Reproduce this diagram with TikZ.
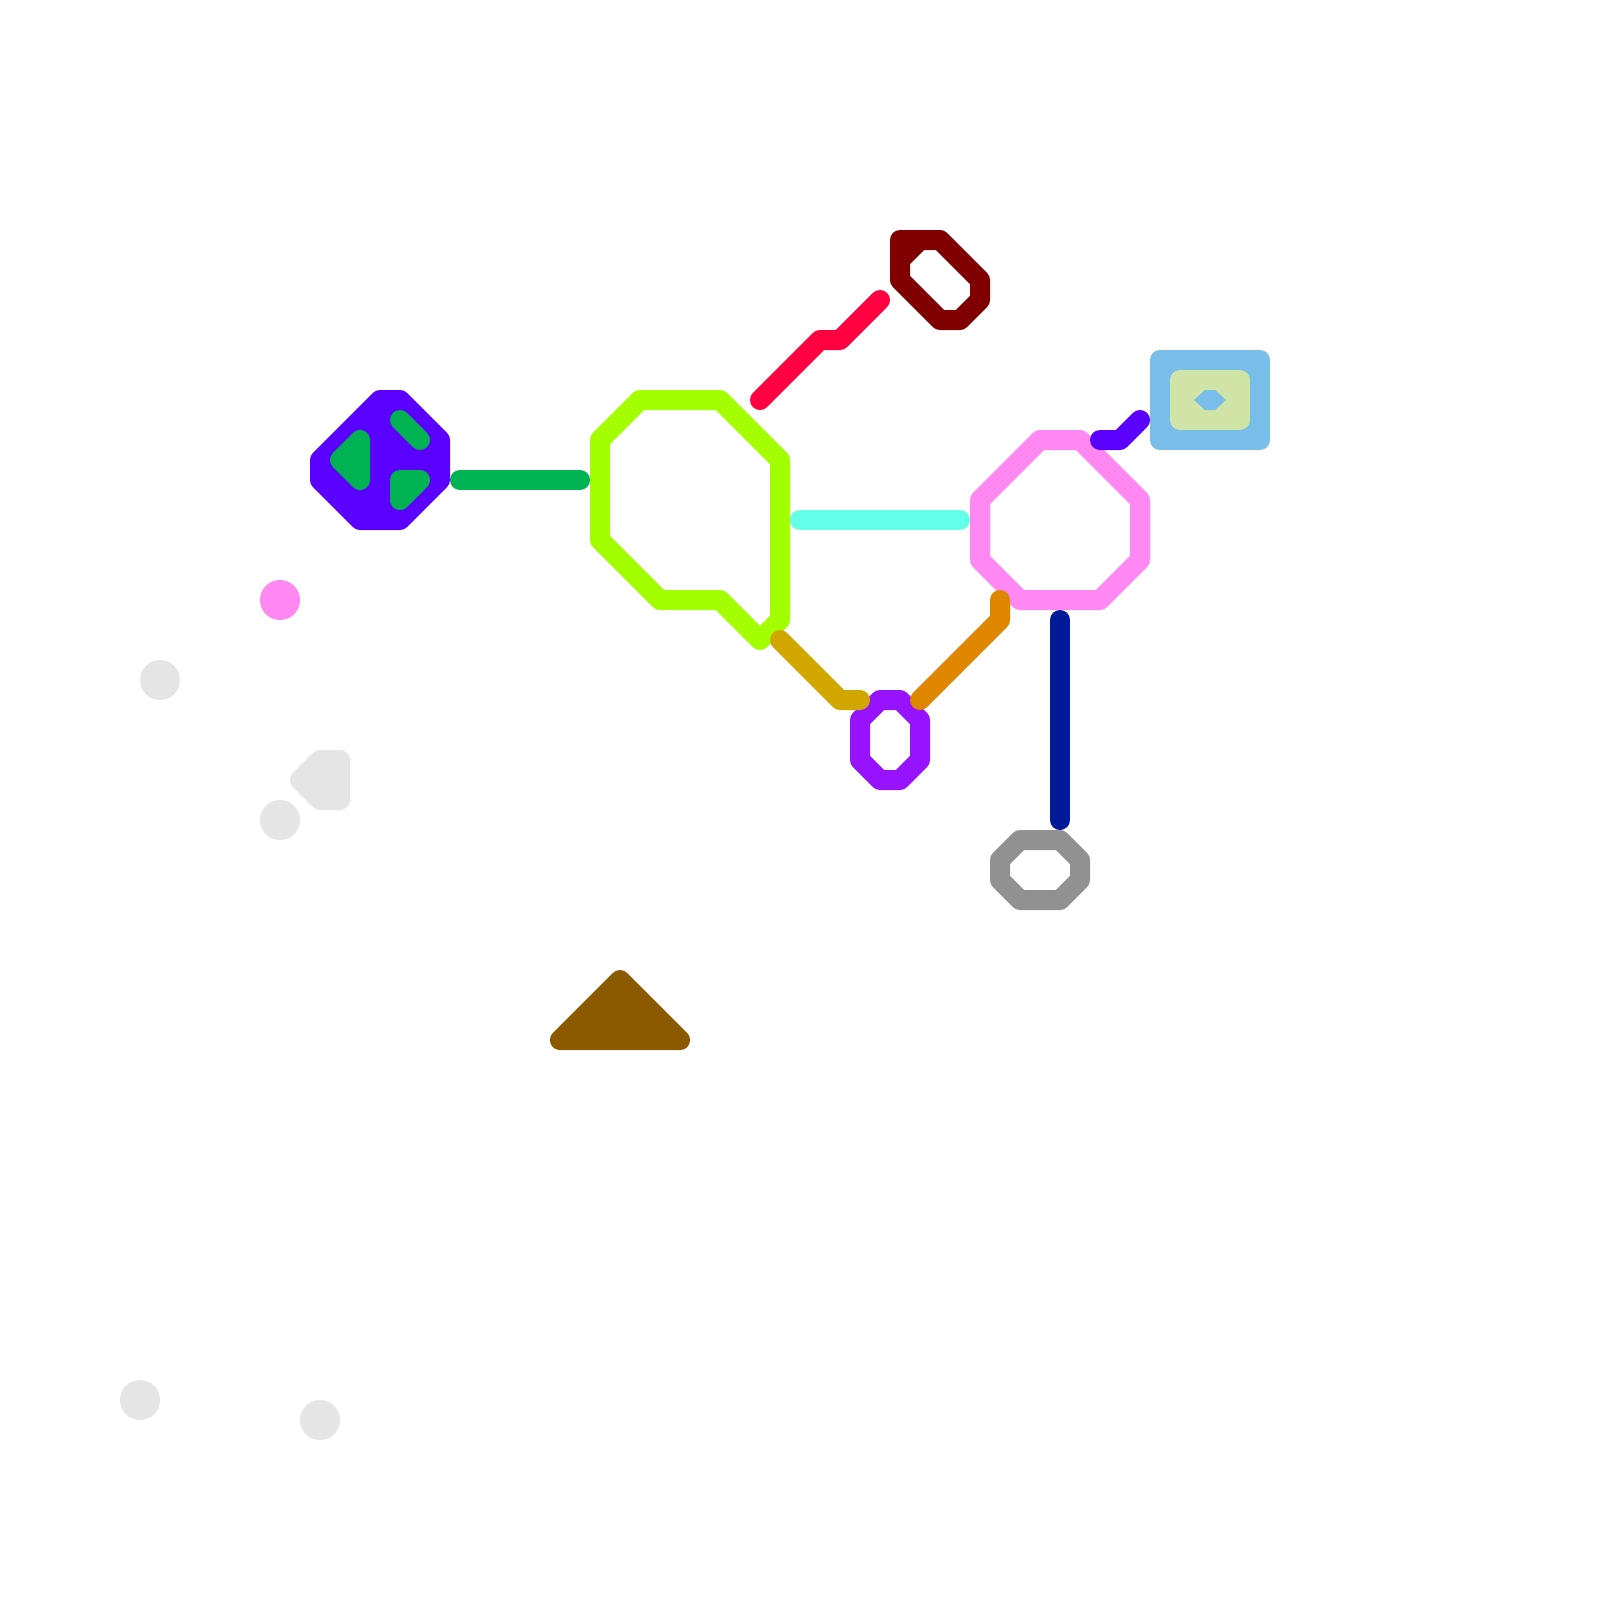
\documentclass[tikz,border=0pt]{standalone}
\definecolor{cviolet}{HTML}{5A00FF}
\definecolor{cgreen}{HTML}{00B251}
\definecolor{clime}{HTML}{A3FF00}
\definecolor{cred}{HTML}{FF0040}
\definecolor{cdark}{HTML}{800000}
\definecolor{csky}{HTML}{79BDE9}
\definecolor{cpale}{HTML}{D0E4A8}
\definecolor{cpink}{HTML}{FF88F2}
\definecolor{ccyan}{HTML}{66FFEB}
\definecolor{cnavy}{HTML}{001A9B}
\definecolor{cgrey}{HTML}{919191}
\definecolor{clight}{HTML}{E5E5E5}
\definecolor{cbrown}{HTML}{8B5A00}
\definecolor{cpurple}{HTML}{9712FF}
\definecolor{cgold}{HTML}{D2A600}
\definecolor{corange}{HTML}{DF8600}
\tikzset{
  metro/.style={draw=#1,line width=1cm,line cap=round,line join=round},
  solid shape/.style={draw=#1,fill=#1,line width=1cm,line cap=round,line join=round},
  stationdot/.style={fill=#1,draw=none}
}
\begin{document}
\begin{tikzpicture}[x=0.05cm,y=-0.05cm]
\useasboundingbox (0,0) rectangle (1600,1600);
\fill[white] (0,0) rectangle (1600,1600);
% violet blob with green marks
\draw[solid shape=cviolet] (320,460)--(380,400)--(400,400)--(440,440)--(440,480)--(400,520)--(360,520)--(320,480)--cycle;
\draw[solid shape=cgreen] (340,460)--(360,440)--(360,480)--cycle;
\draw[metro=cgreen] (400,420)--(420,440);
\draw[solid shape=cgreen] (400,480)--(420,480)--(400,500)--cycle;
\draw[metro=cgreen] (460,480)--(580,480);
% lime loop
\draw[metro=clime] (640,400)--(720,400)--(780,460)--(780,620)--(760,640)--(720,600)--(660,600)--(600,540)--(600,440)--cycle;
% red
\draw[metro=cred] (760,400)--(820,340)--(840,340)--(880,300);
% dark red
\draw[metro=cdark] (900,260)--(920,240)--(900,240)--(940,240)--(980,280)--(980,300)--(960,320)--(940,320)--(900,280)--(900,240);
% sky block
\draw[solid shape=csky] (1160,360) rectangle (1260,440);
\draw[solid shape=cpale] (1180,380) rectangle (1240,420);
\fill[csky] (1194,400)--(1205,390)--(1215,390)--(1226,400)--(1215,410)--(1205,410)--cycle;
% pink loop
\draw[metro=cpink] (1040,440)--(1080,440)--(1140,500)--(1140,560)--(1100,600)--(1020,600)--(980,560)--(980,500)--cycle;
\draw[metro=cviolet] (1100,440)--(1120,440)--(1140,420);
\draw[metro=ccyan] (800,520)--(960,520);
\draw[metro=cnavy] (1060,620)--(1060,820);
\draw[metro=cgrey] (1000,860)--(1020,840)--(1060,840)--(1080,860)--(1080,880)--(1060,900)--(1020,900)--(1000,880)--cycle;
% purple with gold and orange
\draw[metro=cpurple] (860,720)--(880,700)--(900,700)--(920,720)--(920,760)--(900,780)--(880,780)--(860,760)--cycle;
\draw[metro=cgold] (780,640)--(840,700)--(860,700);
\draw[metro=corange] (920,700)--(1000,620)--(1000,600);
% brown triangle
\draw[solid shape=cbrown] (560,1040)--(620,980)--(680,1040)--cycle;
% dots
\fill[stationdot=cpink] (280,600) circle (20);
\fill[stationdot=clight] (160,680) circle (20);
\fill[stationdot=clight] (280,820) circle (20);
\fill[stationdot=clight] (140,1400) circle (20);
\fill[stationdot=clight] (320,1420) circle (20);
\draw[solid shape=clight] (300,780)--(320,760)--(340,760)--(340,800)--(320,800)--cycle;
\end{tikzpicture}
\end{document}
